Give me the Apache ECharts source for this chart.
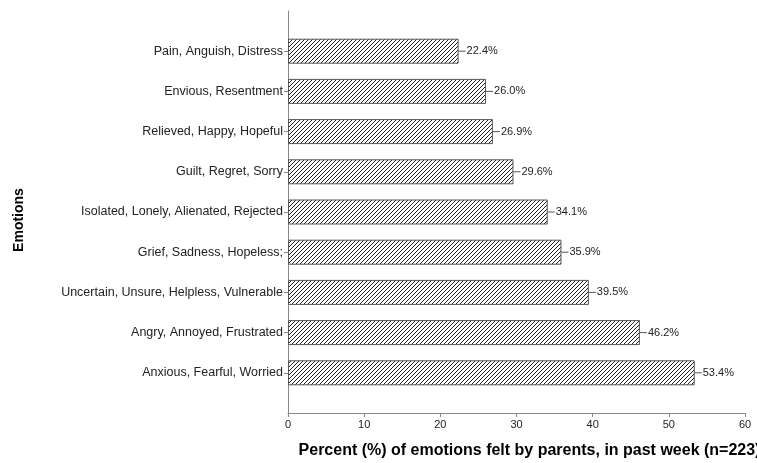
<!DOCTYPE html>
<html>
<head>
<meta charset="utf-8">
<script src="https://cdn.jsdelivr.net/npm/echarts@6/dist/echarts.min.js"></script>
<style>
  html, body { margin: 0; padding: 0; background: #fff; }
  #chart { width: 757px; height: 463px; }
</style>
</head>
<body>
<div id="chart"></div>
<script>
// emotions, top to bottom
const emotions = [
  "Pain, Anguish, Distress",
  "Envious, Resentment",
  "Relieved, Happy, Hopeful",
  "Guilt, Regret, Sorry",
  "Isolated, Lonely, Alienated, Rejected",
  "Grief, Sadness, Hopeless;",
  "Uncertain, Unsure, Helpless, Vulnerable",
  "Angry, Annoyed, Frustrated",
  "Anxious, Fearful, Worried",
];
const percents = [22.4, 26.0, 26.9, 29.6, 34.1, 35.9, 39.5, 46.2, 53.4];
const xTicks = [0, 10, 20, 30, 40, 50, 60];

// hatch pattern for the bars
function hatch() {
  const c = document.createElement("canvas");
  c.width = 4;
  c.height = 4;
  const ctx = c.getContext("2d");
  ctx.fillStyle = "#fff";
  ctx.fillRect(0, 0, 4, 4);
  ctx.strokeStyle = "#222";
  ctx.lineWidth = 1;
  ctx.beginPath();
  ctx.moveTo(-1, 5); ctx.lineTo(5, -1);
  ctx.moveTo(-1, 1); ctx.lineTo(1, -1);
  ctx.moveTo(3, 5); ctx.lineTo(5, 3);
  ctx.stroke();
  return c;
}

// blank slots at both ends give the axis its padding
const cats = [""].concat(emotions, [""]);
const vals = ["-"].concat(percents, ["-"]);

const chart = echarts.init(document.getElementById("chart"));
chart.setOption({
  animation: false,
  textStyle: { fontFamily: "Liberation Sans, Arial, sans-serif" },
  grid: { left: 288, right: 12, top: 11, bottom: 50, containLabel: false, outerBoundsMode: "none" },
  xAxis: {
    type: "value",
    min: xTicks[0],
    max: xTicks[xTicks.length - 1],
    interval: 10,
    splitLine: { show: false },
    axisLine: { show: true, lineStyle: { color: "#888", width: 1 } },
    axisTick: { show: true, length: 4, lineStyle: { color: "#888" } },
    axisLabel: { color: "#222", fontSize: 11, margin: 6 },
    name: "Percent (%) of emotions felt by parents, in past week (n=223)",
    nameLocation: "middle",
    nameGap: 30,
    nameTextStyle: { fontSize: 16, fontWeight: "bold", color: "#000", padding: [0, 0, 0, 26] },
  },
  yAxis: {
    type: "category",
    data: cats,
    inverse: true,
    boundaryGap: false,
    axisLine: { show: true, lineStyle: { color: "#888", width: 1 } },
    axisTick: {
      show: true,
      length: 4,
      lineStyle: { color: "#888" },
      interval: (i, v) => v !== "",
    },
    axisLabel: { color: "#222", fontSize: 12.5, margin: 5, interval: 0 },
    name: "Emotions",
    nameLocation: "middle",
    nameRotate: 90,
    nameGap: 262,
    nameTextStyle: { fontSize: 14, fontWeight: "bold", color: "#000", padding: [0, 16, 0, 0] },
  },
  series: [
    {
      type: "bar",
      data: vals,
      barWidth: 25,
      itemStyle: {
        color: { image: hatch(), repeat: "repeat" },
        borderColor: "#555",
        borderWidth: 1,
      },
      label: {
        show: true,
        position: "right",
        distance: 0,
        formatter: (p) => "{l|}{v|" + p.value.toFixed(1) + "%}",
        rich: {
          l: { width: 7, height: 1, backgroundColor: "#555" },
          v: { fontSize: 11, color: "#222", padding: [0, 0, 0, 1] },
        },
      },
    },
  ],
});
</script>
</body>
</html>
